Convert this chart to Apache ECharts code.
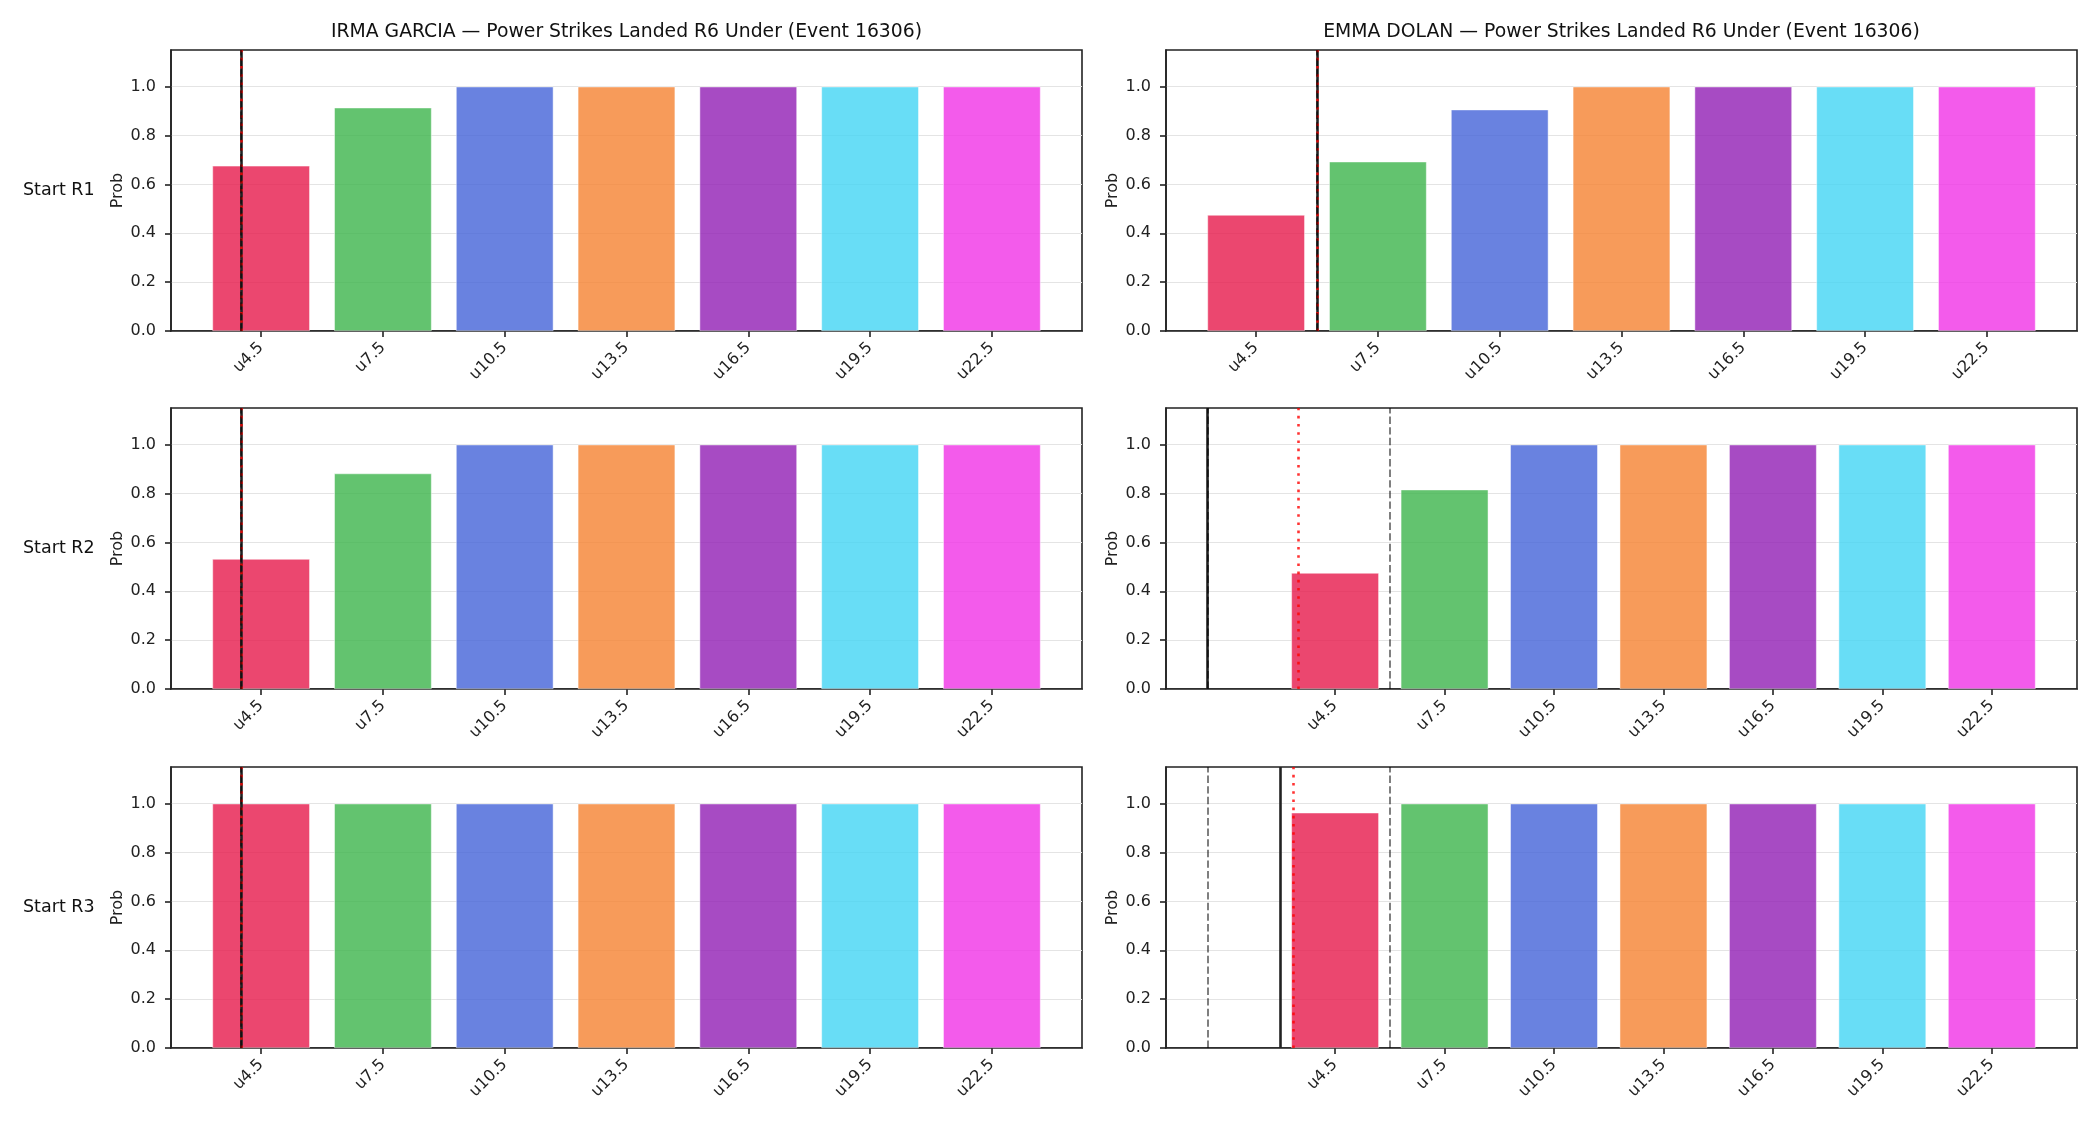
<!DOCTYPE html>
<html>
<head>
<meta charset="utf-8">
<script src="https://cdn.jsdelivr.net/npm/echarts@6/dist/echarts.min.js"></script>
<style>
html, body { margin: 0; padding: 0; background: #fff; }
#chart { width: 2100px; height: 1125px; }
</style>
</head>
<body>
<div id="chart"></div>
<script>
// under lines (x positions and tick labels)
var lineValues = [4.5, 7.5, 10.5, 13.5, 16.5, 19.5, 22.5];
var lineLabels = ['u4.5', 'u7.5', 'u10.5', 'u13.5', 'u16.5', 'u19.5', 'u22.5'];
var rowLabels = ['Start R1', 'Start R2', 'Start R3'];
var barColors = ['#e6194b', '#3cb44b', '#4363d8', '#f58231', '#911eb4', '#42d4f4', '#f032e6'];

// probabilities per start round
var irmaR1 = [0.676, 0.914, 1.0, 1.0, 1.0, 1.0, 1.0];
var irmaR2 = [0.532, 0.882, 1.0, 1.0, 1.0, 1.0, 1.0];
var irmaR3 = [1.0, 1.0, 1.0, 1.0, 1.0, 1.0, 1.0];
var emmaR1 = [0.475, 0.693, 0.906, 1.0, 1.0, 1.0, 1.0];
var emmaR2 = [0.475, 0.816, 1.0, 1.0, 1.0, 1.0, 1.0];
var emmaR3 = [0.963, 1.0, 1.0, 1.0, 1.0, 1.0, 1.0];

// reference lines per row: solid, dotted (red), dashed (grey)
var irmaSolid = [4.0, 4.0, 4.0];
var irmaDotted = [4.0, 4.0, 4.0];
var irmaDashed = [[4.0], [4.0], [4.0]];
var emmaSolid = [6.0, 1.0, 3.0];
var emmaDotted = [6.0, 3.5, 3.35];
var emmaDashed = [[6.0], [1.0, 6.0], [1.0, 6.0]];

var fighters = [
    { name: 'IRMA GARCIA', rows: [irmaR1, irmaR2, irmaR3], solid: irmaSolid, dotted: irmaDotted, dashed: irmaDashed },
    { name: 'EMMA DOLAN', rows: [emmaR1, emmaR2, emmaR3], solid: emmaSolid, dotted: emmaDotted, dashed: emmaDashed }
];

var FONT = 'DejaVu Sans';
var TICK_FONT = 16;
var gridLeft = [171, 1166];
var gridWidth = 911;
var gridTop = [50, 408, 767];
var gridHeight = 281;
var yTicks = [0, 0.2, 0.4, 0.6, 0.8, 1.0];

var chart = echarts.init(document.getElementById('chart'), null, { renderer: 'canvas' });

var grids = [], xAxes = [], yAxes = [], series = [], graphics = [];

fighters.forEach(function (f, c) {
    graphics.push({
        type: 'text',
        x: gridLeft[c] + gridWidth / 2,
        y: 32,
        style: {
            text: f.name + ' \u2014 Power Strikes Landed R6 Under (Event 16306)',
            font: '18.8px "' + FONT + '"',
            fill: '#111',
            textAlign: 'center',
            textVerticalAlign: 'middle'
        }
    });
    f.rows.forEach(function (vals, r) {
        var idx = grids.length;
        // matplotlib-like autoscale with 5% margins
        var marks = [f.solid[r], f.dotted[r]].concat(f.dashed[r]);
        var lo = Math.min.apply(null, [lineValues[0] - 1.2].concat(marks));
        var hi = Math.max.apply(null, [lineValues[lineValues.length - 1] + 1.2].concat(marks));
        var pad = (hi - lo) * 0.05;

        grids.push({
            left: gridLeft[c], top: gridTop[r], width: gridWidth, height: gridHeight,
            show: true, borderColor: '#222', borderWidth: 1.6, backgroundColor: '#fff'
        });
        xAxes.push({
            type: 'value', gridIndex: idx, min: lo - pad, max: hi + pad,
            axisLine: { show: true, onZero: false, lineStyle: { color: '#222', width: 1.6 } },
            axisTick: { show: true, length: 6, customValues: lineValues, lineStyle: { color: '#222', width: 1.6 } },
            axisLabel: {
                customValues: lineValues, rotate: 45, margin: 14,
                fontFamily: FONT, fontSize: TICK_FONT, color: '#222',
                formatter: function (v) { return lineLabels[lineValues.indexOf(v)] || ''; }
            },
            splitLine: { show: false }
        });
        yAxes.push({
            type: 'value', gridIndex: idx, min: 0, max: 1.15,
            name: 'Prob', nameLocation: 'middle', nameGap: 45,
            nameTextStyle: { fontFamily: FONT, fontSize: TICK_FONT, color: '#222' },
            axisLine: { show: true, onZero: false, lineStyle: { color: '#222', width: 1.6 } },
            axisTick: { show: true, length: 6, customValues: yTicks, lineStyle: { color: '#222', width: 1.6 } },
            axisLabel: {
                customValues: yTicks, margin: 15,
                fontFamily: FONT, fontSize: TICK_FONT, color: '#222',
                formatter: function (v) { return v.toFixed(1); }
            },
            splitLine: { show: true, lineStyle: { color: '#e4e4e4', width: 1.2 } }
        });

        var ml = [{ xAxis: f.solid[r], lineStyle: { color: '#222', width: 2.6, type: 'solid' } },
                  { xAxis: f.dotted[r], lineStyle: { color: 'rgba(255,0,0,0.8)', width: 2.6, type: [2.6, 5.6] } }];
        f.dashed[r].forEach(function (d) {
            ml.push({ xAxis: d, lineStyle: { color: 'rgba(0,0,0,0.5)', width: 2, type: [7.4, 3.2] } });
        });

        series.push({
            type: 'bar', xAxisIndex: idx, yAxisIndex: idx,
            barWidth: '80%',
            itemStyle: { opacity: 0.8, borderColor: '#fff', borderWidth: 0.6 },
            emphasis: { disabled: true },
            data: lineValues.map(function (x, i) {
                return { value: [x, vals[i]], itemStyle: { color: barColors[i] } };
            }),
            markLine: {
                silent: true, symbol: ['none', 'none'], animation: false,
                label: { show: false },
                data: ml
            }
        });

        if (c === 0) {
            graphics.push({
                type: 'text',
                x: 23,
                y: gridTop[r] + gridHeight / 2,
                style: {
                    text: rowLabels[r],
                    font: '17.5px "' + FONT + '"',
                    fill: '#111',
                    textAlign: 'left',
                    textVerticalAlign: 'middle'
                }
            });
        }
    });
});

var option = {
    animation: false,
    backgroundColor: '#fff',
    grid: grids,
    xAxis: xAxes,
    yAxis: yAxes,
    series: series,
    graphic: graphics
};

chart.setOption(option);
</script>
</body>
</html>
